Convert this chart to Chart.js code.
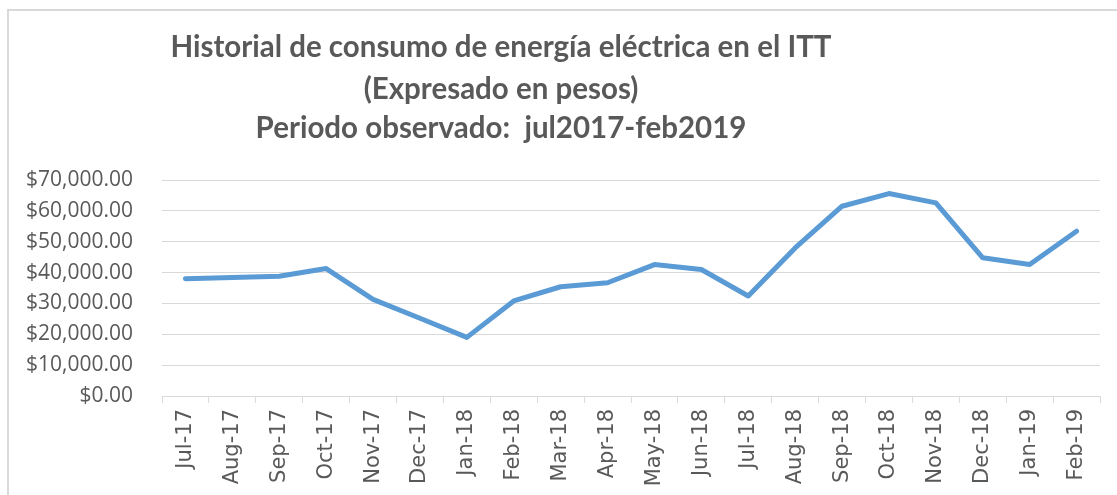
<!DOCTYPE html>
<html>
<head>
<meta charset="utf-8">
<title>Historial de consumo de energía eléctrica en el ITT</title>
<script src="https://cdn.jsdelivr.net/npm/chart.js@4/dist/chart.umd.min.js"></script>
<style>
  html, body { margin: 0; padding: 0; background: #ffffff; }
  #wrap { width: 1117px; height: 495px; position: relative; }
</style>
</head>
<body>
<div id="wrap"><canvas id="chart" width="1117" height="495"></canvas></div>
<script>
// Monthly electricity cost (pesos)
const months = [
  'Jul-17', 'Aug-17', 'Sep-17', 'Oct-17', 'Nov-17', 'Dec-17', 'Jan-18',
  'Feb-18', 'Mar-18', 'Apr-18', 'May-18', 'Jun-18', 'Jul-18', 'Aug-18',
  'Sep-18', 'Oct-18', 'Nov-18', 'Dec-18', 'Jan-19', 'Feb-19'
];
const consumo = [
  38000, 38400, 38800, 41300, 31300, 25200, 19000,
  30800, 35400, 36700, 42600, 41000, 32400, 48000,
  61500, 65600, 62600, 44800, 42600, 53400
];
const titleLines = [
  'Historial de consumo de energía eléctrica en el ITT',
  '(Expresado en pesos)',
  'Periodo observado:  jul2017-feb2019'
];
const yTickValues = [0, 10000, 20000, 30000, 40000, 50000, 60000, 70000];

const money = new Intl.NumberFormat('en-US', { minimumFractionDigits: 2, maximumFractionDigits: 2 });
const TEXT = '#595959';
const GRID = '#d9d9d9';

// Frame around the chart and the three-line heading
const decor = {
  id: 'decor',
  beforeDraw(chart) {
    const ctx = chart.ctx;
    ctx.save();
    ctx.fillStyle = '#ffffff';
    ctx.fillRect(0, 0, chart.width, chart.height);
    ctx.strokeStyle = GRID;
    ctx.lineWidth = 2;
    ctx.beginPath();
    ctx.moveTo(8, chart.height + 2);
    ctx.lineTo(8, 10);
    ctx.lineTo(chart.width + 2, 10);
    ctx.stroke();
    ctx.restore();
  },
  afterDraw(chart) {
    const ctx = chart.ctx;
    ctx.save();
    ctx.fillStyle = TEXT;
    ctx.font = 'bold 29.5px Lato, "Open Sans", sans-serif';
    ctx.textAlign = 'center';
    ctx.textBaseline = 'middle';
    const ys = [47, 89, 128];
    titleLines.forEach((t, i) => ctx.fillText(t, 501, ys[i]));
    ctx.restore();
  }
};

new Chart(document.getElementById('chart'), {
  type: 'line',
  data: {
    labels: months,
    datasets: [{
      data: consumo,
      borderColor: '#5b9bd5',
      backgroundColor: '#5b9bd5',
      borderWidth: 5,
      borderCapStyle: 'round',
      borderJoinStyle: 'round',
      pointRadius: 0,
      pointHoverRadius: 0,
      tension: 0,
      fill: false
    }]
  },
  options: {
    responsive: false,
    animation: false,
    layout: { padding: { left: 0, right: 17, top: 180, bottom: 0 } },
    plugins: {
      legend: { display: false },
      title: { display: false },
      tooltip: { enabled: false }
    },
    scales: {
      x: {
        offset: true,
        grid: {
          offset: true,
          drawOnChartArea: false,
          drawTicks: true,
          tickLength: 7,
          color: GRID,
          lineWidth: 1
        },
        border: { display: true, color: GRID, width: 1 },
        ticks: {
          autoSkip: false,
          maxRotation: 90,
          minRotation: 90,
          padding: 6,
          color: TEXT,
          font: { family: '"DejaVu Sans", sans-serif', size: 21 }
        },
        afterFit(scale) { scale.height = 99; }
      },
      y: {
        min: 0,
        max: 70000,
        afterBuildTicks(scale) { scale.ticks = yTickValues.map(v => ({ value: v })); },
        grid: { color: GRID, lineWidth: 1, drawTicks: false },
        border: { display: false },
        ticks: {
          padding: 29,
          color: TEXT,
          font: { family: '"Open Sans", sans-serif', size: 21 },
          callback: (v) => '$' + money.format(v)
        },
        afterFit(scale) { scale.width = 162; }
      }
    }
  },
  plugins: [decor]
});
</script>
</body>
</html>
